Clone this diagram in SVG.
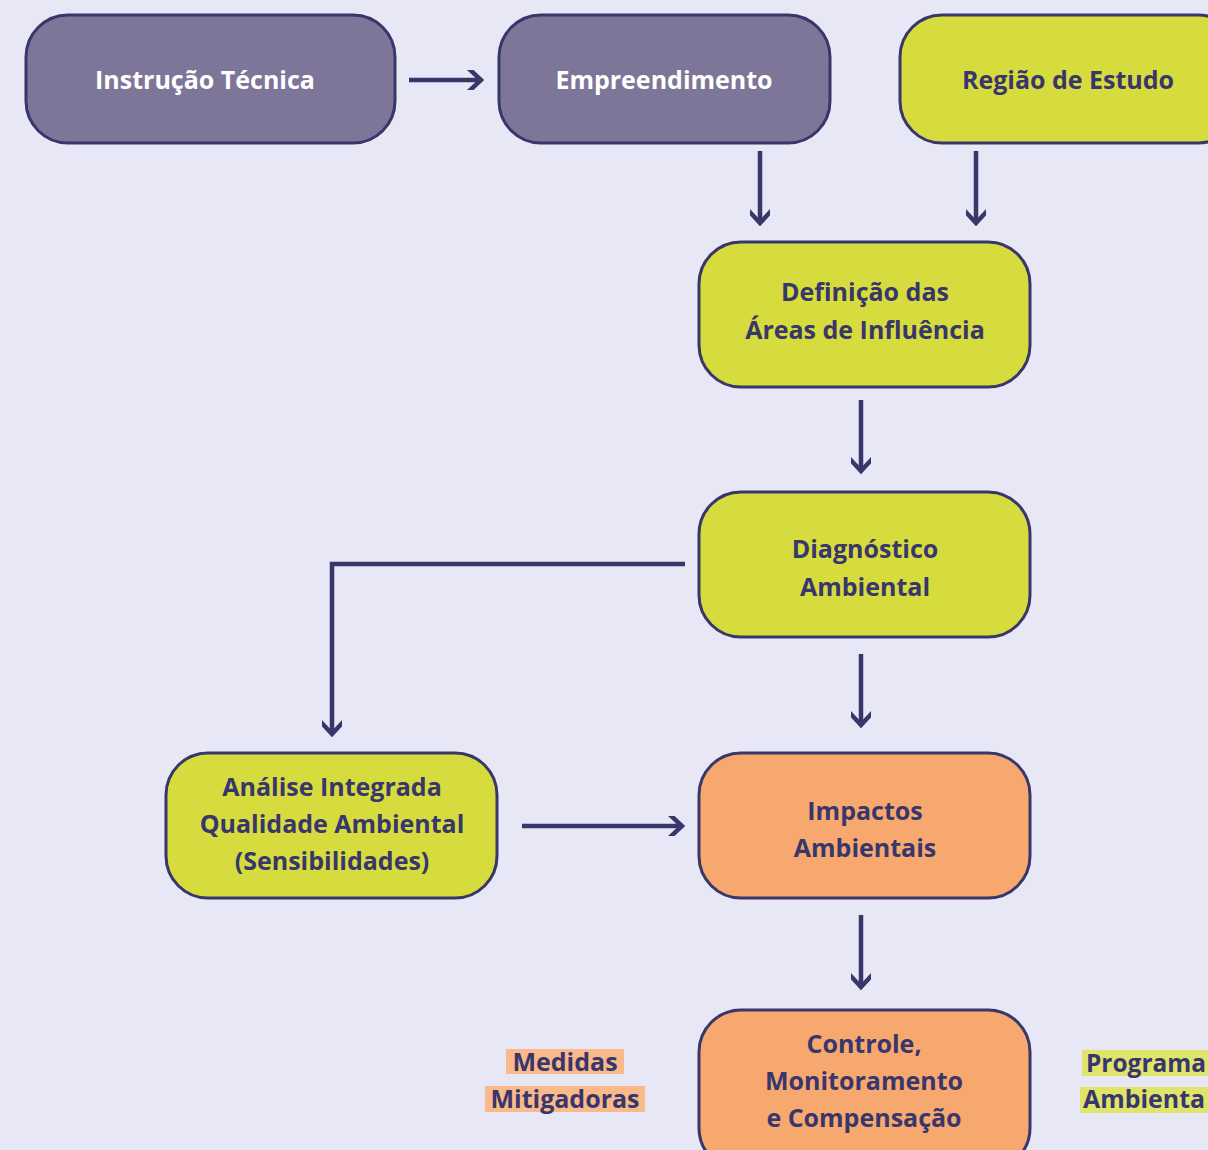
<svg xmlns="http://www.w3.org/2000/svg" width="1208" height="1150" viewBox="0 0 1208 1150">
<defs>
<style>
.bg{fill:#e8e7f5}
.box{stroke:#38366b;stroke-width:3}
.purple{fill:#7e7699}
.yellow{fill:#d6dc3d}
.orange{fill:#f6a86f}
.t{font-family:"Open Sans","Noto Sans",sans-serif;font-weight:700;font-size:25px;text-anchor:middle;fill:#38366b}
.w{fill:#ffffff}
.c{fill:none;stroke:#38366b;stroke-width:4.5}
</style>
<marker id="chev" viewBox="0 0 20 20" refX="17" refY="10" markerWidth="20" markerHeight="20" markerUnits="userSpaceOnUse" orient="auto">
<path d="M2 -4 L17 10 L2 24" fill="none" stroke="#38366b" stroke-width="4.5"/>
</marker>
</defs>
<rect class="bg" x="0" y="0" width="1208" height="1150"/>

<g id="connectors">
<line class="c" x1="409" y1="80" x2="481" y2="80" marker-end="url(#chev)"/>
<line class="c" x1="760" y1="151" x2="760" y2="223" marker-end="url(#chev)"/>
<line class="c" x1="976" y1="151" x2="976" y2="223" marker-end="url(#chev)"/>
<line class="c" x1="861" y1="400" x2="861" y2="471" marker-end="url(#chev)"/>
<polyline class="c" points="685,564 332,564 332,734" marker-end="url(#chev)"/>
<line class="c" x1="861" y1="654" x2="861" y2="725" marker-end="url(#chev)"/>
<line class="c" x1="522" y1="826" x2="682" y2="826" marker-end="url(#chev)"/>
<line class="c" x1="861" y1="915" x2="861" y2="987" marker-end="url(#chev)"/>
</g>

<g id="instrucao">
<rect class="box purple" x="26" y="15" width="369" height="128" rx="42"/>
<text class="t w" x="205" y="89">Instrução Técnica</text>
</g>
<g id="empreendimento">
<rect class="box purple" x="499" y="15" width="331" height="128" rx="42"/>
<text class="t w" x="664" y="89">Empreendimento</text>
</g>
<g id="regiao">
<rect class="box yellow" x="900" y="15" width="340" height="128" rx="42"/>
<text class="t" x="1068" y="89">Região de Estudo</text>
</g>
<g id="definicao">
<rect class="box yellow" x="699" y="242" width="331" height="145" rx="42"/>
<text class="t" x="865" y="301">Definição das</text>
<text class="t" x="865" y="339">Áreas de Influência</text>
</g>
<g id="diagnostico">
<rect class="box yellow" x="699" y="492" width="331" height="145" rx="42"/>
<text class="t" x="865" y="558">Diagnóstico</text>
<text class="t" x="865" y="596">Ambiental</text>
</g>
<g id="analise">
<rect class="box yellow" x="166" y="753" width="331" height="145" rx="42"/>
<text class="t" x="332" y="796">Análise Integrada</text>
<text class="t" x="332" y="833">Qualidade Ambiental</text>
<text class="t" x="332" y="870">(Sensibilidades)</text>
</g>
<g id="impactos">
<rect class="box orange" x="699" y="753" width="331" height="145" rx="42"/>
<text class="t" x="865" y="820">Impactos</text>
<text class="t" x="865" y="857">Ambientais</text>
</g>
<g id="controle">
<rect class="box orange" x="699" y="1010" width="331" height="160" rx="42"/>
<text class="t" x="864" y="1053">Controle,</text>
<text class="t" x="864" y="1090">Monitoramento</text>
<text class="t" x="864" y="1127">e Compensação</text>
</g>
<g id="medidas">
<rect x="506" y="1049" width="118" height="25" fill="#f9b98a"/>
<rect x="485" y="1086" width="160" height="26" fill="#f9b98a"/>
<text class="t" x="565" y="1071">Medidas</text>
<text class="t" x="565" y="1108">Mitigadoras</text>
</g>
<g id="programas">
<rect x="1082" y="1050" width="130" height="26" fill="#dfe56b"/>
<rect x="1080" y="1087" width="130" height="26" fill="#dfe56b"/>
<text class="t" x="1086" y="1072" style="text-anchor:start" textLength="120" lengthAdjust="spacingAndGlyphs">Programa</text>
<text class="t" x="1083" y="1108" style="text-anchor:start" textLength="122" lengthAdjust="spacingAndGlyphs">Ambienta</text>
</g>
</svg>
